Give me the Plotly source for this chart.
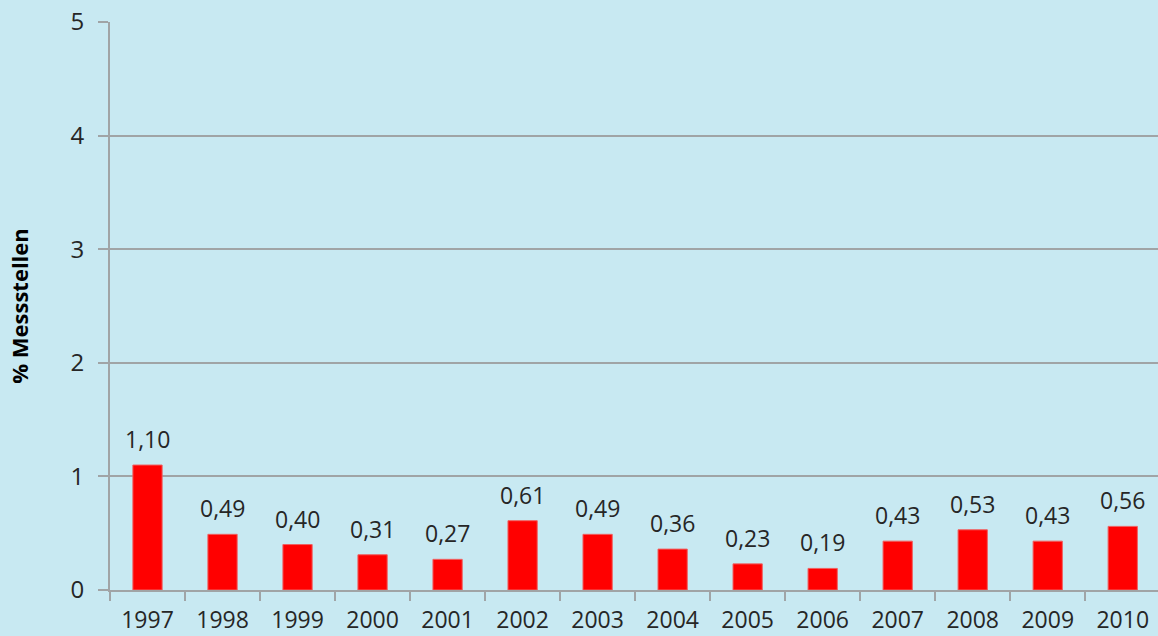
import plotly.graph_objects as go

years = ["1997", "1998", "1999", "2000", "2001", "2002", "2003",
         "2004", "2005", "2006", "2007", "2008", "2009", "2010"]
values = [1.10, 0.49, 0.40, 0.31, 0.27, 0.61, 0.49,
          0.36, 0.23, 0.19, 0.43, 0.53, 0.43, 0.56]
y_ticks = [0, 1, 2, 3, 4, 5]

bg = "#C8E9F2"
grid = "#A0A4A6"
text_col = "#262626"
font_family = "'Open Sans', sans-serif"

fig = go.Figure()
fig.add_trace(go.Bar(
    x=years,
    y=values,
    width=0.39,
    marker=dict(color="#FF0000", line=dict(color="#F06060", width=1)),
    showlegend=False,
))

# value labels above each bar, German decimal comma (x given as category index)
for i, v in enumerate(values):
    fig.add_annotation(
        x=i, y=v, text=f"{v:.2f}".replace(".", ","),
        showarrow=False, yanchor="bottom", yshift=8,
        font=dict(family=font_family, size=23, color=text_col),
    )

fig.update_layout(
    width=1158, height=636,
    margin=dict(l=110, r=0, t=22, b=46),
    paper_bgcolor=bg, plot_bgcolor=bg,
    font=dict(family=font_family, color=text_col),
)
fig.update_xaxes(
    type="category",
    range=[-0.5, 13.47],
    automargin=False,
    showgrid=False,
    showline=True, linecolor=grid, linewidth=2,
    ticks="outside", tickson="boundaries", ticklen=9, tickcolor=grid, tickwidth=2,
    tickfont=dict(family=font_family, size=23, color=text_col),
    ticklabelstandoff=8,
)
fig.update_yaxes(
    range=[0, 5],
    tickvals=y_ticks,
    automargin=False,
    showgrid=True, gridcolor=grid, gridwidth=1.5,
    zeroline=False,
    showline=True, linecolor=grid, linewidth=2,
    ticks="outside", ticklen=10, tickcolor=grid, tickwidth=2,
    tickfont=dict(family=font_family, size=24, color=text_col),
    ticklabelstandoff=9,
    title=dict(text="<b>% Messstellen</b>", standoff=36,
               font=dict(family=font_family, size=22, color="#000000")),
)

fig.write_html("out.html")
